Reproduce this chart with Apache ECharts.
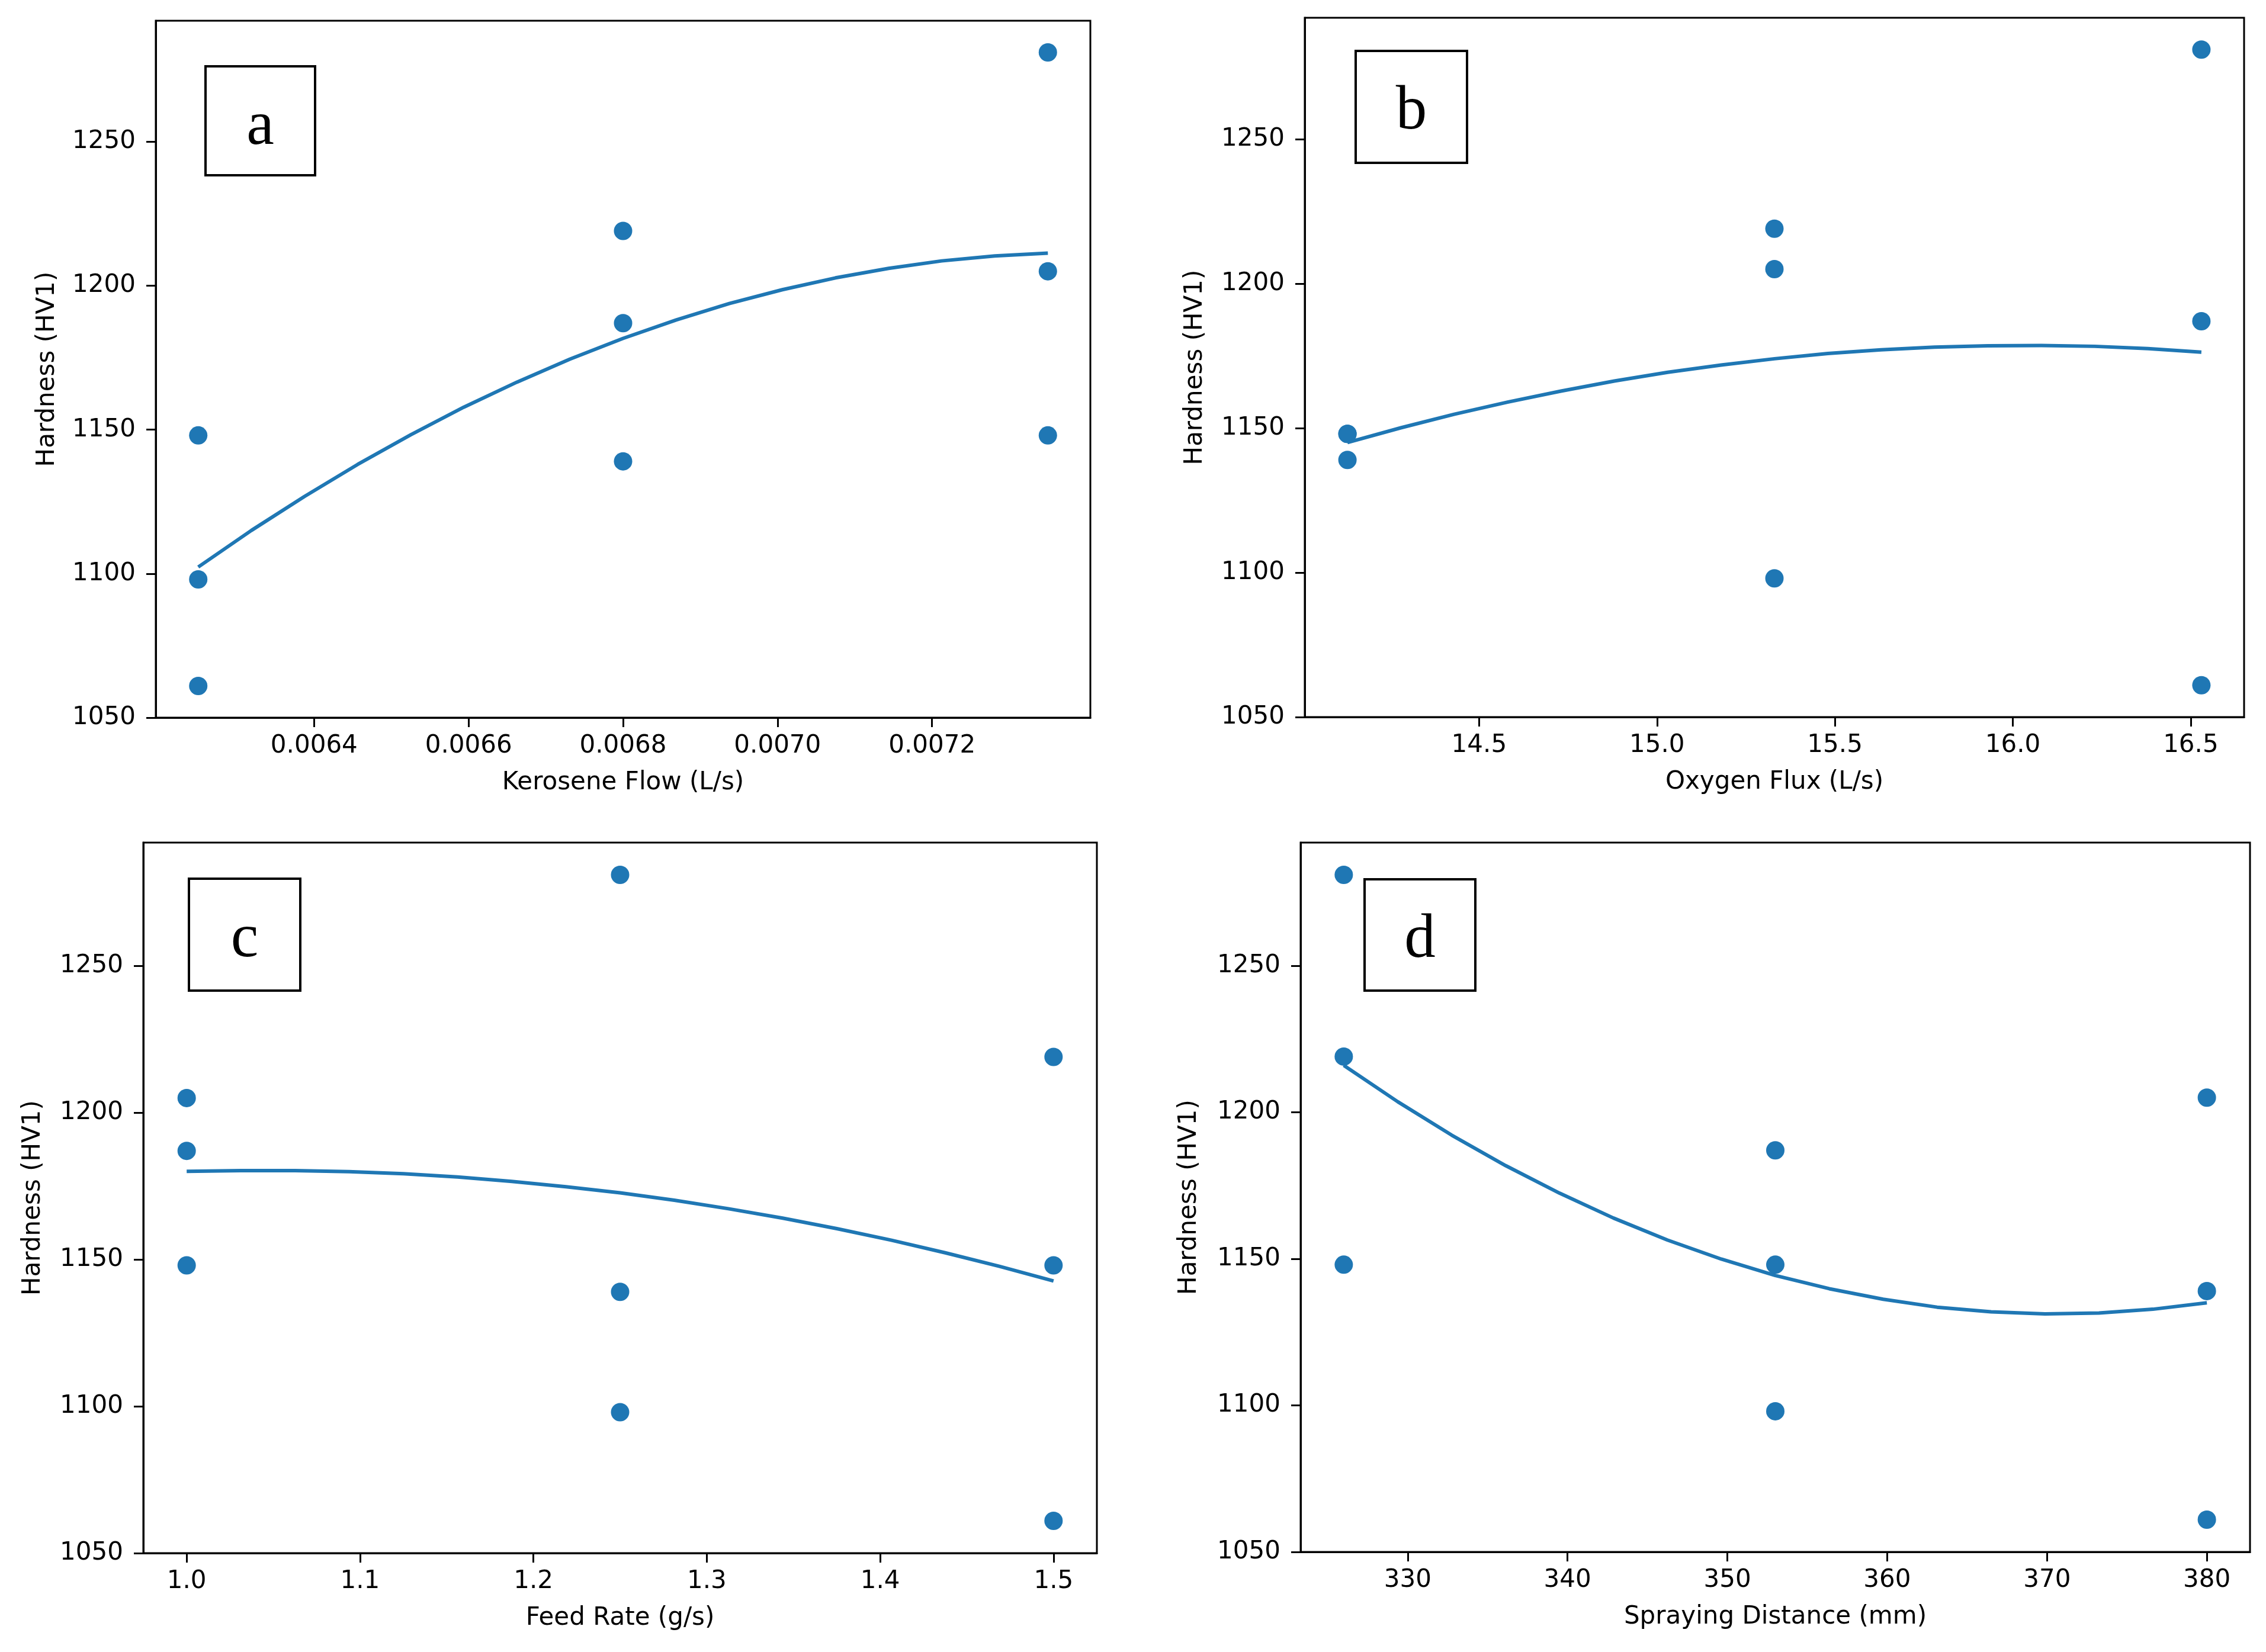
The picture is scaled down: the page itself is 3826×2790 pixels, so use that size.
<!DOCTYPE html>
<html><head><meta charset="utf-8">
<script src="https://cdn.jsdelivr.net/npm/echarts@6/dist/echarts.min.js"></script>
<style>html,body{margin:0;padding:0;background:#fff}#c{width:3826px;height:2790px}</style>
</head><body><div id="c"></div>
<script>
// ---- data ----
const keroseneFlow = [0.00625, 0.00625, 0.00625, 0.0068, 0.0068, 0.0068, 0.00735, 0.00735, 0.00735];
const hardnessA    = [1148, 1098, 1061, 1219, 1187, 1139, 1281, 1205, 1148];
const oxygenFlux   = [14.13, 14.13, 14.13, 15.33, 15.33, 15.33, 16.53, 16.53, 16.53];
const hardnessB    = [1148, 1148, 1139, 1219, 1205, 1098, 1281, 1187, 1061];
const feedRate     = [1.0, 1.0, 1.0, 1.25, 1.25, 1.25, 1.5, 1.5, 1.5];
const hardnessC    = [1205, 1187, 1148, 1281, 1139, 1098, 1219, 1148, 1061];
const sprayDist    = [326, 326, 326, 353, 353, 353, 380, 380, 380];
const hardnessD    = [1281, 1219, 1148, 1187, 1148, 1098, 1205, 1139, 1061];

// fitted trend curves
const fitA_x = [0.00625, 0.00631875, 0.0063875, 0.00645625, 0.006525, 0.00659375, 0.0066625, 0.00673125, 0.0068,
                0.00686875, 0.0069375, 0.00700625, 0.007075, 0.00714375, 0.0072125, 0.00728125, 0.00735];
const fitA_y = [1102.3, 1115.0, 1126.8, 1137.9, 1148.2, 1157.8, 1166.5, 1174.5, 1181.7,
                1188.1, 1193.8, 1198.6, 1202.7, 1206.0, 1208.6, 1210.3, 1211.3];
const fitB_x = [14.13, 14.28, 14.43, 14.58, 14.73, 14.88, 15.03, 15.18, 15.33,
                15.48, 15.63, 15.78, 15.93, 16.08, 16.23, 16.38, 16.53];
const fitB_y = [1145.0, 1150.1, 1154.8, 1159.0, 1162.8, 1166.3, 1169.3, 1171.8, 1174.0,
                1175.8, 1177.1, 1178.0, 1178.5, 1178.6, 1178.3, 1177.5, 1176.3];
const fitC_x = [1.0, 1.03125, 1.0625, 1.09375, 1.125, 1.15625, 1.1875, 1.21875, 1.25,
                1.28125, 1.3125, 1.34375, 1.375, 1.40625, 1.4375, 1.46875, 1.5];
const fitC_y = [1180.0, 1180.3, 1180.3, 1179.9, 1179.2, 1178.1, 1176.6, 1174.8, 1172.7,
                1170.2, 1167.3, 1164.1, 1160.5, 1156.6, 1152.3, 1147.7, 1142.7];
const fitD_x = [326, 329.375, 332.75, 336.125, 339.5, 342.875, 346.25, 349.625, 353,
                356.375, 359.75, 363.125, 366.5, 369.875, 373.25, 376.625, 380];
const fitD_y = [1216.0, 1203.6, 1192.2, 1181.8, 1172.4, 1163.9, 1156.4, 1149.9, 1144.3,
                1139.8, 1136.2, 1133.5, 1131.9, 1131.2, 1131.5, 1132.8, 1135.0];

// tick labels
const hardnessTicks  = [1050, 1100, 1150, 1200, 1250];
const keroseneTicks  = [0.0064, 0.0066, 0.0068, 0.0070, 0.0072];
const oxygenTicks    = [14.5, 15.0, 15.5, 16.0, 16.5];
const feedTicks      = [1.0, 1.1, 1.2, 1.3, 1.4, 1.5];
const distanceTicks  = [330, 340, 350, 360, 370, 380];

const xNames = ['Kerosene Flow (L/s)', 'Oxygen Flux (L/s)', 'Feed Rate (g/s)', 'Spraying Distance (mm)'];
const yName = 'Hardness (HV1)';
const panelLetters = ['a', 'b', 'c', 'd'];

const hardnessMin = 1050, hardnessMax = 1292;
const xLimits = [[0.006195, 0.007405], [14.01, 16.65], [0.975, 1.525], [323.3, 382.7]];

// ---- layout ----
const BLUE = '#1f77b4';
const FONT = 'DejaVu Sans';
const FS = 42;
const grids = [
  {left: 263, top: 35, width: 1578, height: 1177},
  {left: 2203, top: 30, width: 1586, height: 1181},
  {left: 242, top: 1423, width: 1610, height: 1200},
  {left: 2196, top: 1423, width: 1603, height: 1198}
];
const yGaps = [162, 164, 165, 167];
const boxes = [[345, 110, 189, 188], [2287, 84, 192, 193], [317, 1482, 192, 193], [2302, 1483, 191, 192]];

const xs = [keroseneFlow, oxygenFlux, feedRate, sprayDist];
const ys = [hardnessA, hardnessB, hardnessC, hardnessD];
const fxs = [fitA_x, fitB_x, fitC_x, fitD_x];
const fys = [fitA_y, fitB_y, fitC_y, fitD_y];
const xTicks = [keroseneTicks, oxygenTicks, feedTicks, distanceTicks];
const decimals = [4, 1, 1, 0];

const axisLineStyle = {color: '#000', width: 3};
const option = {
  animation: false,
  backgroundColor: '#fff',
  grid: grids.map(g => Object.assign({show: true, borderColor: '#000', borderWidth: 3, backgroundColor: 'transparent', containLabel: false}, g)),
  xAxis: grids.map((g, i) => ({
    type: 'value', gridIndex: i, min: xLimits[i][0], max: xLimits[i][1],
    axisLine: {show: true, onZero: false, lineStyle: axisLineStyle},
    axisTick: {show: true, length: 16, lineStyle: {color: '#000', width: 3}, customValues: xTicks[i]},
    axisLabel: {customValues: xTicks[i], fontFamily: FONT, fontSize: FS, color: '#000', margin: 27,
      alignMinLabel: 'center', alignMaxLabel: 'center', hideOverlap: false,
      formatter: v => Number(v).toFixed(decimals[i])},
    splitLine: {show: false},
    name: xNames[i], nameLocation: 'middle', nameGap: 89,
    nameTextStyle: {fontFamily: FONT, fontSize: FS, color: '#000'}
  })),
  yAxis: grids.map((g, i) => ({
    type: 'value', gridIndex: i, min: hardnessMin, max: hardnessMax,
    axisLine: {show: true, onZero: false, lineStyle: axisLineStyle},
    axisTick: {show: true, length: 16, lineStyle: {color: '#000', width: 3}, customValues: hardnessTicks},
    axisLabel: {customValues: hardnessTicks, fontFamily: FONT, fontSize: FS, color: '#000', margin: 34,
      hideOverlap: false, formatter: v => String(v)},
    splitLine: {show: false},
    name: yName, nameLocation: 'middle', nameGap: yGaps[i],
    nameTextStyle: {fontFamily: FONT, fontSize: FS, color: '#000'}
  })),
  series: [],
  graphic: []
};
for (let i = 0; i < 4; i++) {
  option.series.push({
    type: 'scatter', xAxisIndex: i, yAxisIndex: i, symbol: 'circle', symbolSize: 31,
    itemStyle: {color: BLUE, opacity: 1}, z: 3,
    data: xs[i].map((v, k) => [v, ys[i][k]])
  });
  option.series.push({
    type: 'line', xAxisIndex: i, yAxisIndex: i, smooth: false, showSymbol: false, symbol: 'none',
    lineStyle: {color: BLUE, width: 6, join: 'round', cap: 'butt'}, z: 4,
    data: fxs[i].map((v, k) => [v, fys[i][k]])
  });
  const b = boxes[i];
  option.graphic.push({
    type: 'rect', z: 100,
    shape: {x: b[0] + 2, y: b[1] + 2, width: b[2] - 4, height: b[3] - 4},
    style: {fill: 'none', stroke: '#000', lineWidth: 4}
  });
  option.graphic.push({
    type: 'text', z: 100,
    style: {text: panelLetters[i], x: b[0] + b[2] / 2, y: b[1] + 105, fontSize: 105,
      fontFamily: 'Liberation Serif', fill: '#000', align: 'center', verticalAlign: 'middle'}
  });
}
const chart = echarts.init(document.getElementById('c'), null, {renderer: 'canvas', width: 3826, height: 2790});
chart.setOption(option);
</script>
</body></html>
